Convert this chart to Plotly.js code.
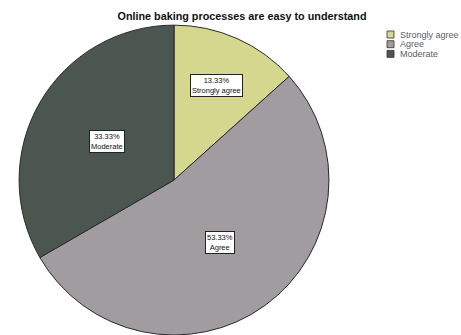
<!DOCTYPE html>
<html><head><meta charset="utf-8">
<script src="https://cdn.plot.ly/plotly-3.0.1.min.js"></script>
<style>html,body{margin:0;padding:0;background:#fff;}#chart{width:461px;height:335px;}</style>
</head><body><div id="chart"></div>
<script>
var titleText = "Online baking processes are easy to understand";
var labels = ["Strongly agree", "Agree", "Moderate"];
var values = [13.33, 53.33, 33.33];
var colors = ["#d6d78e", "#a09ca0", "#4b5651"];

var W = 461, H = 335;
var dom = {x: [0.039, 0.716], y: [0.0, 0.925]};
var cx = (dom.x[0] + dom.x[1]) / 2 * W;
var cyB = (dom.y[0] + dom.y[1]) / 2 * H;
var R = Math.min((dom.x[1] - dom.x[0]) * W, (dom.y[1] - dom.y[0]) * H) / 2;

var total = values.reduce(function(a, b){return a + b;}, 0);
var annotations = [];
var cum = 0;
values.forEach(function(v, i){
  var mid = (cum + v / 2) / total * 2 * Math.PI;
  cum += v;
  var f = (v / total < 0.2) ? 0.67 : 0.5;
  var px = cx + Math.sin(mid) * R * f;
  var py = cyB + Math.cos(mid) * R * f;
  annotations.push({
    xref: "paper", yref: "paper", x: px / W, y: py / H,
    xanchor: "center", yanchor: "middle", showarrow: false,
    text: (v).toFixed(2) + "%<br>" + labels[i],
    font: {family: "Arial, Liberation Sans, sans-serif", size: 7.5, color: "#111"},
    bgcolor: "#ffffff", bordercolor: "#222", borderwidth: 1, borderpad: 1
  });
});

var shapes = [];
labels.forEach(function(l, i){
  var top = 31 + i * 9.7;
  shapes.push({type: "rect", xref: "paper", yref: "paper",
    x0: 387 / W, x1: 394 / W, y0: 1 - (top + 7) / H, y1: 1 - top / H,
    fillcolor: colors[i], line: {color: "#333", width: 0.8}});
  annotations.push({xref: "paper", yref: "paper", x: 398 / W, y: 1 - (top + 3.5) / H,
    xanchor: "left", yanchor: "middle", showarrow: false, text: l,
    font: {family: "Arial, Liberation Sans, sans-serif", size: 9, color: "#5a5e6a"}});
});

var data = [{
  type: "pie", labels: labels, values: values, sort: false, direction: "clockwise",
  rotation: 0, textinfo: "none", hoverinfo: "none",
  marker: {colors: colors, line: {color: "#2a2a2a", width: 1}},
  domain: dom
}];

var layout = {
  width: W, height: H, margin: {l: 0, r: 0, t: 0, b: 0},
  paper_bgcolor: "#fff", showlegend: false,
  title: {text: "<b>" + titleText + "</b>", x: 242 / W, xanchor: "center", y: 1 - 16 / H, yanchor: "middle",
    font: {family: "Arial, Liberation Sans, sans-serif", size: 10.8, color: "#111"}},
  annotations: annotations, shapes: shapes
};
Plotly.newPlot("chart", data, layout, {displayModeBar: false, staticPlot: true});
</script></body></html>
